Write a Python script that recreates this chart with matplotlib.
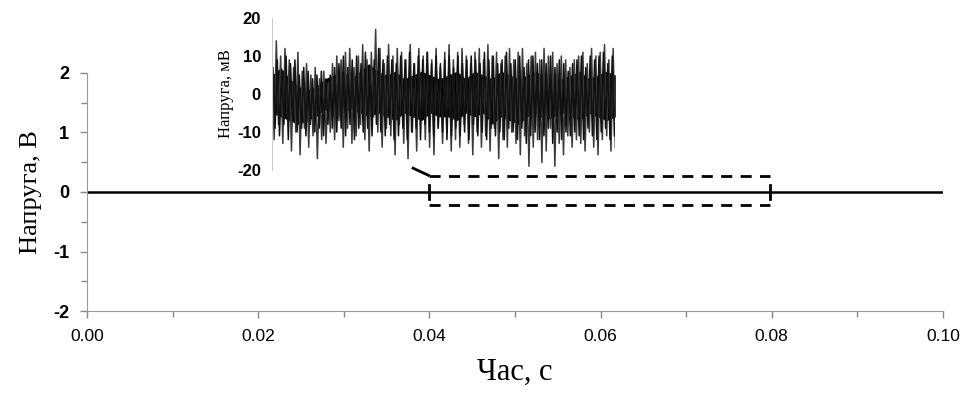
import numpy as np
import matplotlib.pyplot as plt

# main trace (V) over 0..0.1 s
t_main = [0.0, 0.1]
v_main = [0.0, 0.0]

# zoomed window
win_t = [0.04, 0.0798]
win_v = [-0.22, 0.27]

# inset noise trace, mV (outer peaks alternating)
inset_mv = [5, -12, 14, -8, 10, -13, 12, -6, 9, -15, 7, -10, 11, -16, 6, -9, 8, -14, 5, -11,
            7, -17, 4, -12, 6, -13, 3, -10,
            8, -12, 10, -7, 9, -14, 11, -9, 12, -13, 7, -11, 10, -8, 13, -12, 9, -15, 11, -6,
            17, -10, 12, -14, 8, -9, 13, -11,
            10, -16, 12, -8, 11, -13, 9, -17, 13, -10, 8, -15, 12, -7, 10, -12, 11, -14, 9, -16,
            12, -9, 7, -13, 11, -10, 13, -15,
            9, -12, 11, -14, 12, -8, 10, -13, 8, -16, 11, -10, 12, -14, 9, -11, 13, -15, 10, -9,
            11, -17, 8, -12, 10, -14, 12, -10,
            9, -13, 11, -16, 12, -11, 8, -19, 10, -14, 11, -12, 9, -18, 12, -15, 10, -9, 11, -19,
            8, -13, 10, -16, 9, -11, 7, -14,
            9, -12, 10, -13, 11, -15, 8, -10, 12, -14, 10, -16, 11, -12, 13, -11, 9, -15, 12, -14]

# smaller in-between swings of the same trace (mV)
inset_mv_b = [7, -9, 9, -11, 6, -8, 10, -12, 8, -7, 9, -10, 5, -9, 7, -11, 6, -8, 4, -10,
              5, -9, 6, -11, 4, -8, 5, -9,
              7, -10, 8, -9, 10, -11, 7, -8, 9, -12, 10, -9, 8, -10, 11, -9, 7, -11, 9, -8,
              12, -10, 9, -11, 10, -8, 9, -12,
              8, -11, 10, -9, 9, -12, 11, -10, 8, -9, 10, -12, 9, -8, 11, -10, 8, -11, 10, -9,
              8, -10, 9, -12, 10, -11, 7, -9,
              10, -11, 8, -10, 9, -12, 10, -8, 9, -11, 8, -10, 11, -12, 9, -9, 10, -11, 8, -10,
              9, -12, 11, -9, 8, -10, 9, -12,
              10, -9, 7, -13, 9, -11, 10, -10, 8, -12, 9, -11, 8, -9, 10, -13, 7, -10, 9, -12,
              8, -10, 6, -11, 8, -10, 9, -11,
              10, -12, 7, -9, 10, -11, 9, -12, 10, -10, 11, -9, 8, -12, 10, -11]

# dense dark band of the inset trace, upper / lower edge (mV)
core_hi = [5, 7, 4, 2, 1, 2, 4, 5, 6, 4, 6, 8, 6, 5, 6, 4, 5, 6, 5, 4,
           5, 6, 4, 6, 5, 4, 6, 5, 4, 5, 6, 4, 3, 4, 5, 6, 4, 5, 6, 5]
core_lo = [-5, -6, -7, -8, -7, -6, -4, -6, -5, -4, -5, -6, -5, -6, -7, -5, -6, -7, -5, -6,
           -6, -7, -5, -6, -5, -8, -6, -7, -8, -6, -5, -7, -6, -5, -6, -7, -5, -6, -7, -6]

xticks = [0.00, 0.02, 0.04, 0.06, 0.08, 0.10]
yticks = [-2, -1, 0, 1, 2]
inset_yticks = [-20, -10, 0, 10, 20]

sans = 'Liberation Sans'
serif = 'Liberation Serif'

fig = plt.figure(figsize=(9.67, 4.01), dpi=100)
ax = fig.add_axes([0.09, 0.2244, 0.885, 0.5936])

ax.plot(t_main, v_main, color='black', lw=1.8)
for tt in win_t:
    ax.plot([tt, tt], [-0.12, 0.12], color='black', lw=2)
ax.plot(win_t, [win_v[1]] * 2, color='black', lw=2, ls=(0, (4, 3)))
ax.plot(win_t, [win_v[0]] * 2, color='black', lw=2, ls=(0, (4, 3)))
ax.plot([0.0381, 0.0399], [0.40, 0.28], color='black', lw=2, clip_on=False)

ax.set_xlim(0, 0.1)
ax.set_ylim(-2, 2)
ax.set_xticks(xticks)
ax.set_xticklabels(['%.2f' % v for v in xticks], fontfamily=sans, fontsize=12.5)
ax.set_yticks(yticks)
ax.set_yticklabels([str(v) for v in yticks], fontfamily=sans, fontsize=13, fontweight='bold')
ax.set_xticks(np.arange(0.01, 0.1, 0.02), minor=True)
ax.set_yticks([-1.5, -0.5, 0.5, 1.5], minor=True)
ax.tick_params(which='both', direction='out', color='#888888', width=1)
ax.tick_params(which='major', length=5, pad=8)
ax.tick_params(which='minor', length=4)
for s in ['top', 'right']:
    ax.spines[s].set_visible(False)
for s in ['left', 'bottom']:
    ax.spines[s].set_color('#999999')
ax.set_ylabel('Напруга, В', fontfamily=serif, fontsize=19, labelpad=8)
ax.set_xlabel('Час, с', fontfamily=serif, fontsize=22, labelpad=10)

ins = fig.add_axes([0.2813, 0.576, 0.355, 0.379])
t_ins = np.linspace(0.04, 0.08, len(inset_mv))
t_b = np.linspace(0.0401, 0.0799, len(inset_mv_b))
t_core = np.linspace(0.04, 0.08, len(core_hi))
ins.fill_between(t_core, core_lo, core_hi, color='black', lw=0)
ins.plot(t_ins, inset_mv, color='#3a3a3a', lw=1.1)
ins.plot(t_b, inset_mv_b, color='#111111', lw=1.1)
ins.set_xlim(0.04, 0.08)
ins.set_ylim(-20, 20)
ins.set_xticks([])
ins.set_yticks(inset_yticks)
ins.set_yticklabels([str(v) for v in inset_yticks], fontfamily=sans, fontsize=12, fontweight='bold')
ins.tick_params(axis='y', length=0, pad=8)
for s in ['top', 'right', 'bottom']:
    ins.spines[s].set_visible(False)
ins.spines['left'].set_color('#cccccc')
ins.patch.set_alpha(0)
ins.set_ylabel('Напруга, мВ', fontfamily=serif, fontsize=12, labelpad=2)

fig.savefig('out.png', dpi=100)
